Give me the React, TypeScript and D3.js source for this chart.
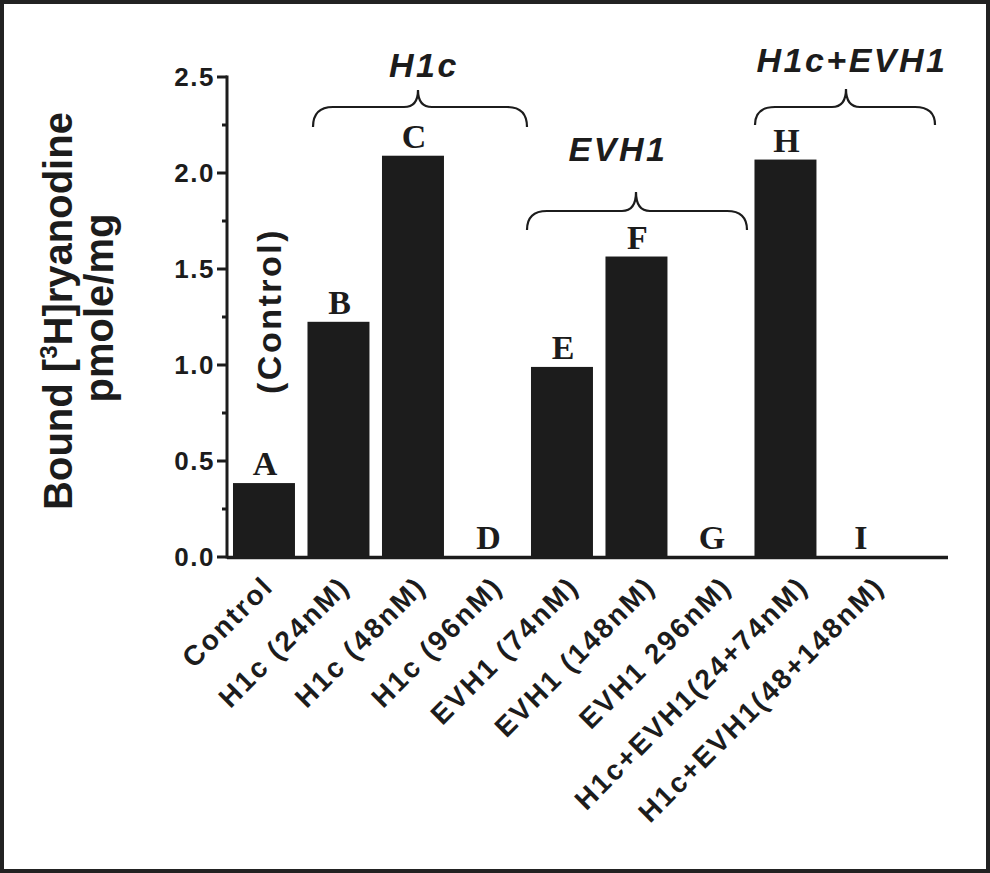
import React, { useEffect, useRef } from "react";
import * as d3 from "d3";

const categories = [
  "Control",
  "H1c (24nM)",
  "H1c (48nM)",
  "H1c (96nM)",
  "EVH1 (74nM)",
  "EVH1 (148nM)",
  "EVH1 296nM)",
  "H1c+EVH1(24+74nM)",
  "H1c+EVH1(48+148nM)",
];
const letters = ["A", "B", "C", "D", "E", "F", "G", "H", "I"];
const values = [0.385, 1.225, 2.09, 0, 0.99, 1.565, 0, 2.07, 0];
const yTicks = [0, 0.5, 1.0, 1.5, 2.0, 2.5];
const groupNames = ["H1c", "EVH1", "H1c+EVH1"];

// brace / group label placement (layout only)
const braceLayout = [
  { x1: 313, x2: 527, peak: 418, yEnd: 127, yMid: 107, yPeak: 90, tx: 424, ty: 77 },
  { x1: 527, x2: 747, peak: 636, yEnd: 230, yMid: 211, yPeak: 192, tx: 618, ty: 161 },
  { x1: 755, x2: 935, peak: 846, yEnd: 125, yMid: 107, yPeak: 89, tx: 852, ty: 72 },
];

const W = 990;
const H = 873;

const bracePath = (b) => {
  const r = 20;
  const r2 = 14;
  return [
    `M${b.x1},${b.yEnd}`,
    `Q${b.x1},${b.yMid} ${b.x1 + r},${b.yMid}`,
    `L${b.peak - r2},${b.yMid}`,
    `Q${b.peak},${b.yMid} ${b.peak},${b.yPeak}`,
    `Q${b.peak},${b.yMid} ${b.peak + r2},${b.yMid}`,
    `L${b.x2 - r},${b.yMid}`,
    `Q${b.x2},${b.yMid} ${b.x2},${b.yEnd}`,
  ].join(" ");
};

const App = () => {
  const ref = useRef(null);

  useEffect(() => {
    const svg = d3.select(ref.current);
    svg.selectAll("*").remove();

    const left = 227;
    const right = 948;
    const top = 77;
    const bottom = 557;

    const x = d3
      .scaleBand()
      .domain(categories)
      .range([left, right])
      .paddingInner(0.168)
      .paddingOuter(0.423)
      .align(0.095);

    const y = d3.scaleLinear().domain([0, 2.5]).range([bottom, top]);

    // tick labels are spaced a little wider than the bars
    const bw = x.bandwidth();
    const xl = d3
      .scalePoint()
      .domain(categories)
      .range([x(categories[0]) + bw / 2 + 11, x(categories[8]) + bw / 2 + 26]);

    const sans = "'Liberation Sans', Arial, sans-serif";
    const serif = "'Liberation Serif', 'Times New Roman', serif";

    svg.append("rect").attr("width", W).attr("height", H).attr("fill", "#fff");
    svg
      .append("rect")
      .attr("x", 2)
      .attr("y", 2)
      .attr("width", W - 4)
      .attr("height", H - 4)
      .attr("fill", "none")
      .attr("stroke", "#222")
      .attr("stroke-width", 4);

    // bars
    svg
      .append("g")
      .selectAll("rect")
      .data(values)
      .join("rect")
      .attr("x", (d, i) => x(categories[i]))
      .attr("y", (d) => y(d))
      .attr("width", bw)
      .attr("height", (d) => y(0) - y(d))
      .attr("fill", "#1c1c1c");

    // letters
    svg
      .append("g")
      .selectAll("text")
      .data(values)
      .join("text")
      .attr("x", (d, i) => x(categories[i]) + bw / 2 + 1)
      .attr("y", (d) => y(d) - 8)
      .attr("text-anchor", "middle")
      .attr("font-family", serif)
      .attr("font-weight", "bold")
      .attr("font-size", 34)
      .attr("fill", "#1c1c1c")
      .text((d, i) => letters[i]);

    // y axis
    const ya = svg.append("g").attr("transform", `translate(${left},0)`);
    ya.append("line")
      .attr("y1", y(2.5) - 1.5)
      .attr("y2", y(0) + 1.5)
      .attr("stroke", "#1c1c1c")
      .attr("stroke-width", 3);
    const minor = d3.range(0.25, 2.5, 0.5);
    ya.selectAll("line.minor")
      .data(minor)
      .join("line")
      .attr("class", "minor")
      .attr("x1", -5)
      .attr("x2", 0)
      .attr("y1", (d) => y(d))
      .attr("y2", (d) => y(d))
      .attr("stroke", "#1c1c1c")
      .attr("stroke-width", 3);
    ya.selectAll("line.major")
      .data(yTicks)
      .join("line")
      .attr("class", "major")
      .attr("x1", -10)
      .attr("x2", 0)
      .attr("y1", (d) => y(d))
      .attr("y2", (d) => y(d))
      .attr("stroke", "#1c1c1c")
      .attr("stroke-width", 3);
    ya.selectAll("text")
      .data(yTicks)
      .join("text")
      .attr("x", -12)
      .attr("y", (d) => y(d) + 9)
      .attr("text-anchor", "end")
      .attr("font-family", sans)
      .attr("font-weight", "bold")
      .attr("font-size", 26)
      .attr("letter-spacing", 1.5)
      .attr("fill", "#1c1c1c")
      .text((d) => d3.format(".1f")(d));

    // x axis line
    svg
      .append("line")
      .attr("x1", left)
      .attr("x2", right)
      .attr("y1", bottom + 0.5)
      .attr("y2", bottom + 0.5)
      .attr("stroke", "#1c1c1c")
      .attr("stroke-width", 3.5);

    // x labels
    svg
      .append("g")
      .selectAll("text")
      .data(categories)
      .join("text")
      .attr("transform", (d) => `translate(${xl(d)},${588}) rotate(-45)`)
      .attr("text-anchor", "end")
      .attr("font-family", sans)
      .attr("font-weight", "bold")
      .attr("font-size", 28)
      .attr("letter-spacing", 2.2)
      .attr("fill", "#1c1c1c")
      .text((d) => d);

    // y title
    const yt = svg
      .append("text")
      .attr("transform", "translate(72,311) rotate(-90)")
      .attr("text-anchor", "middle")
      .attr("font-family", sans)
      .attr("font-weight", "bold")
      .attr("font-size", 40)
      .attr("fill", "#1c1c1c");
    yt.append("tspan").text("Bound [");
    yt.append("tspan").attr("font-size", 24).attr("dy", -15).text("3");
    yt.append("tspan").attr("dy", 15).text("H]ryanodine");
    svg
      .append("text")
      .attr("transform", "translate(113,308) rotate(-90)")
      .attr("text-anchor", "middle")
      .attr("font-family", sans)
      .attr("font-weight", "bold")
      .attr("font-size", 40)
      .attr("fill", "#1c1c1c")
      .text("pmole/mg");

    // (Control) annotation
    svg
      .append("text")
      .attr("transform", "translate(281,311) rotate(-90)")
      .attr("text-anchor", "middle")
      .attr("font-family", sans)
      .attr("font-weight", "bold")
      .attr("font-size", 34)
      .attr("letter-spacing", 2.5)
      .attr("fill", "#1c1c1c")
      .text("(Control)");

    // group braces
    const g = svg.append("g");
    g.selectAll("path")
      .data(braceLayout)
      .join("path")
      .attr("d", bracePath)
      .attr("fill", "none")
      .attr("stroke", "#1c1c1c")
      .attr("stroke-width", 2.2);
    g.selectAll("text")
      .data(braceLayout)
      .join("text")
      .attr("x", (d) => d.tx)
      .attr("y", (d) => d.ty)
      .attr("text-anchor", "middle")
      .attr("font-family", sans)
      .attr("font-weight", "bold")
      .attr("font-style", "italic")
      .attr("font-size", 34)
      .attr("letter-spacing", 2.5)
      .attr("fill", "#1c1c1c")
      .text((d, i) => groupNames[i]);
  }, []);

  return (
    <svg
      ref={ref}
      width={W}
      height={H}
      style={{ position: "absolute", left: 0, top: 0 }}
    />
  );
};

export default App;
